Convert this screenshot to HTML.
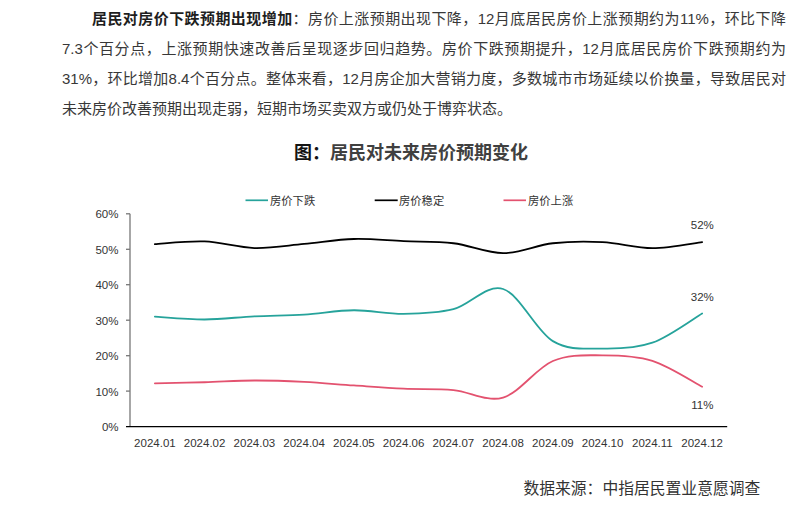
<!DOCTYPE html>
<html lang="zh-CN">
<head>
<meta charset="utf-8">
<title>居民对未来房价预期变化</title>
<style>
  html, body { margin: 0; padding: 0; background: #ffffff; }
  body { width: 800px; height: 511px; position: relative; overflow: hidden;
         font-family: "Liberation Sans", "Noto Sans CJK SC", sans-serif; color: #383838; }
  .ln { position: absolute; white-space: nowrap; font-size: 15px; line-height: 30px; height: 30px; }
  .j { text-align: justify; text-align-last: justify; }
  .l1 { left: 92px; top: 3.5px; width: 694px; }
  .l2 { left: 62px; top: 33.5px; width: 724px; }
  .l3 { left: 62px; top: 63.5px; width: 724px; }
  .l4 { left: 62px; top: 93.5px; }
  b { font-weight: bold; color: #1e1e1e; }
  .title { position: absolute; left: 0; top: 141.2px; width: 822px; text-align: center;
           font-size: 18px; font-weight: bold; color: #404040; line-height: 24px; }
  .tk { color: #141414; }
  .src { position: absolute; left: 523.4px; top: 477px; font-size: 15.8px; line-height: 24px; color: #333333; white-space: nowrap; }
  svg { position: absolute; left: 0; top: 0; }
  svg text { font-family: "Liberation Sans", "Noto Sans CJK SC", sans-serif; fill: #333333; }
</style>
</head>
<body>
<div class="ln j l1"><b>居民对房价下跌预期出现增加</b>：房价上涨预期出现下降，12月底居民房价上涨预期约为11%，环比下降</div>
<div class="ln j l2">7.3个百分点，上涨预期快速改善后呈现逐步回归趋势。房价下跌预期提升，12月底居民房价下跌预期约为</div>
<div class="ln j l3">31%，环比增加8.4个百分点。整体来看，12月房企加大营销力度，多数城市市场延续以价换量，导致居民对</div>
<div class="ln l4">未来房价改善预期出现走弱，短期市场买卖双方或仍处于博弈状态。</div>

<div class="title"><span class="tk">图：</span>居民对未来房价预期变化</div>

<svg width="800" height="511" viewBox="0 0 800 511">
  <!-- legend -->
  <line x1="245.5" y1="200.3" x2="268" y2="200.3" stroke="#26a39b" stroke-width="1.7"/>
  <text x="270" y="204.5" font-size="11.3">房价下跌</text>
  <line x1="374.7" y1="200.3" x2="397.7" y2="200.3" stroke="#000000" stroke-width="1.7"/>
  <text x="399" y="204.5" font-size="11.3">房价稳定</text>
  <line x1="503.5" y1="200.3" x2="526" y2="200.3" stroke="#e3526f" stroke-width="1.7"/>
  <text x="528" y="204.5" font-size="11.3">房价上涨</text>

  <!-- y axis -->
  <g stroke="#777777" stroke-width="1.3" fill="none">
    <line x1="130" y1="213.8" x2="130" y2="426.6"/>
    <line x1="126" y1="213.8" x2="130" y2="213.8"/>
    <line x1="126" y1="249.3" x2="130" y2="249.3"/>
    <line x1="126" y1="284.7" x2="130" y2="284.7"/>
    <line x1="126" y1="320.2" x2="130" y2="320.2"/>
    <line x1="126" y1="355.7" x2="130" y2="355.7"/>
    <line x1="126" y1="391.1" x2="130" y2="391.1"/>
  </g>
  <line x1="126" y1="426.6" x2="727.2" y2="426.6" stroke="#000000" stroke-width="1.3"/>

  <g font-size="11.5" text-anchor="end">
    <text x="118.5" y="218">60%</text>
    <text x="118.5" y="253.5">50%</text>
    <text x="118.5" y="289">40%</text>
    <text x="118.5" y="324.5">30%</text>
    <text x="118.5" y="360">20%</text>
    <text x="118.5" y="395.5">10%</text>
    <text x="118.5" y="431">0%</text>
  </g>
  <g font-size="11.5" text-anchor="middle">
    <text x="154.9" y="447">2024.01</text>
    <text x="204.6" y="447">2024.02</text>
    <text x="254.4" y="447">2024.03</text>
    <text x="304.1" y="447">2024.04</text>
    <text x="353.9" y="447">2024.05</text>
    <text x="403.6" y="447">2024.06</text>
    <text x="453.4" y="447">2024.07</text>
    <text x="503.1" y="447">2024.08</text>
    <text x="552.9" y="447">2024.09</text>
    <text x="602.6" y="447">2024.10</text>
    <text x="652.4" y="447">2024.11</text>
    <text x="702.1" y="447">2024.12</text>
  </g>

  <g fill="none" stroke-width="1.8" stroke-linecap="round" stroke-linejoin="round">
    <path stroke="#000000" d="M154.88,244.12 C163.17,243.68 188.04,240.81 204.62,241.46 C221.21,242.11 237.79,247.61 254.38,248.03 C270.96,248.44 287.54,245.45 304.12,243.95 C320.71,242.44 337.29,239.45 353.88,238.98 C370.46,238.51 387.04,240.40 403.62,241.11 C420.21,241.82 436.79,241.23 453.38,243.24 C469.96,245.25 486.54,253.17 503.12,253.17 C519.71,253.17 536.29,245.07 552.88,243.24 C569.46,241.40 586.04,241.35 602.62,242.17 C619.21,243.00 635.79,248.20 652.38,248.20 C668.96,248.20 693.83,243.18 702.12,242.17"/>
    <path stroke="#26a39b" d="M154.88,316.65 C163.17,317.13 188.04,319.55 204.62,319.49 C221.21,319.43 237.79,317.13 254.38,316.30 C270.96,315.47 287.54,315.53 304.12,314.53 C320.71,313.52 337.29,310.39 353.88,310.27 C370.46,310.15 387.04,313.99 403.62,313.82 C420.21,313.64 436.79,313.34 453.38,309.21 C469.96,305.07 486.54,283.67 503.12,288.99 C519.71,294.31 536.29,331.19 552.88,341.13 C569.46,351.06 586.04,348.31 602.62,348.57 C619.21,348.84 635.79,348.57 652.38,342.72 C668.96,336.87 693.83,318.34 702.12,313.46"/>
    <path stroke="#e3526f" d="M154.88,383.33 C163.17,383.15 188.04,382.74 204.62,382.27 C221.21,381.79 237.79,380.55 254.38,380.49 C270.96,380.43 287.54,381.08 304.12,381.91 C320.71,382.74 337.29,384.34 353.88,385.46 C370.46,386.58 387.04,387.88 403.62,388.65 C420.21,389.42 436.79,388.59 453.38,390.07 C469.96,391.55 486.54,402.36 503.12,397.52 C519.71,392.67 536.29,368.02 552.88,360.99 C569.46,353.95 586.04,355.34 602.62,355.31 C619.21,355.28 635.79,355.58 652.38,360.81 C668.96,366.04 693.83,382.38 702.12,386.70"/>
  </g>

  <g font-size="11.5" text-anchor="middle">
    <text x="702.3" y="228.9">52%</text>
    <text x="702.3" y="301">32%</text>
    <text x="702.3" y="409.3">11%</text>
  </g>
</svg>

<div class="src">数据来源：中指居民置业意愿调查</div>
</body>
</html>
